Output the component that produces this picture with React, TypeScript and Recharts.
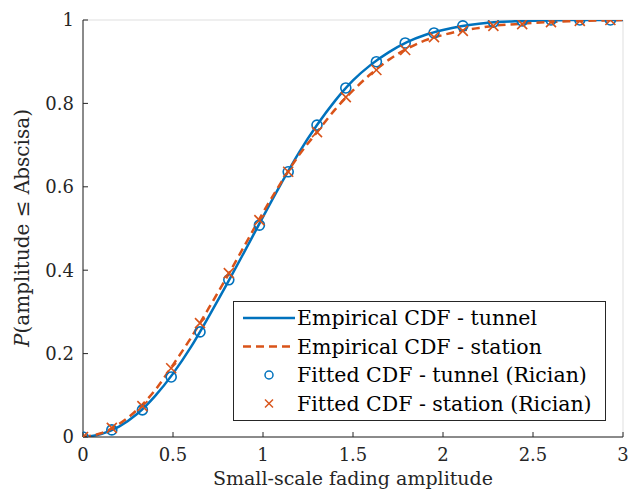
import { ComposedChart, Line, Scatter, XAxis, YAxis, CartesianGrid } from 'recharts';

const xGrid = [0, 0.1, 0.2, 0.3, 0.4, 0.5, 0.6, 0.7, 0.8, 0.9, 1.0, 1.1, 1.2, 1.3, 1.4, 1.5, 1.6, 1.7, 1.8, 1.9, 2.0, 2.1, 2.2, 2.3, 2.4, 2.5, 2.6, 2.7, 2.8, 2.9, 3.0];
const tunnelCdf = [0, 0.007, 0.025, 0.055, 0.098, 0.152, 0.216, 0.29, 0.367, 0.447, 0.528, 0.607, 0.682, 0.748, 0.806, 0.855, 0.893, 0.923, 0.947, 0.964, 0.976, 0.985, 0.991, 0.995, 0.997, 0.998, 0.999, 1, 1, 1, 1];
const stationCdf = [0, 0.009, 0.031, 0.065, 0.112, 0.173, 0.238, 0.31, 0.384, 0.461, 0.538, 0.61, 0.676, 0.731, 0.785, 0.831, 0.871, 0.905, 0.931, 0.951, 0.964, 0.974, 0.981, 0.987, 0.99, 0.993, 0.995, 0.997, 0.998, 0.999, 1];

const markerX = [0, 0.16, 0.33, 0.49, 0.65, 0.81, 0.98, 1.14, 1.3, 1.46, 1.63, 1.79, 1.95, 2.11, 2.28, 2.44, 2.6, 2.76, 2.93];
const tunnelFit = [0, 0.017, 0.065, 0.144, 0.252, 0.377, 0.508, 0.636, 0.748, 0.837, 0.9, 0.945, 0.969, 0.986, 0.995, 0.998, 1, 1, 1];
const stationFit = [0, 0.022, 0.074, 0.165, 0.273, 0.393, 0.52, 0.636, 0.731, 0.815, 0.88, 0.928, 0.959, 0.974, 0.986, 0.99, 0.995, 0.998, 1];

const xTicks = [0, 0.5, 1, 1.5, 2, 2.5, 3];
const yTicks = [0, 0.2, 0.4, 0.6, 0.8, 1];

const BLUE = '#0072BD';
const ORANGE = '#D95319';
const FONT = '"DejaVu Serif", "Liberation Serif", serif';

const tunnelLine = xGrid.map((x, i) => ({ x, y: tunnelCdf[i] }));
const stationLine = xGrid.map((x, i) => ({ x, y: stationCdf[i] }));
const tunnelPts = markerX.map((x, i) => ({ x, y: tunnelFit[i] }));
const stationPts = markerX.map((x, i) => ({ x, y: stationFit[i] }));

function Circle(props: any) {
  return <circle cx={props.cx} cy={props.cy} r={5} fill="none" stroke={BLUE} strokeWidth={1.6} />;
}

function Cross(props: any) {
  const { cx, cy } = props;
  const s = 5;
  return (
    <g stroke={ORANGE} strokeWidth={1.6}>
      <line x1={cx - s} y1={cy - s} x2={cx + s} y2={cy + s} />
      <line x1={cx - s} y1={cy + s} x2={cx + s} y2={cy - s} />
    </g>
  );
}

function LegendBox() {
  const rows = [
    { label: 'Empirical CDF - tunnel', kind: 'line' },
    { label: 'Empirical CDF - station', kind: 'dash' },
    { label: 'Fitted CDF - tunnel (Rician)', kind: 'circle' },
    { label: 'Fitted CDF - station (Rician)', kind: 'cross' },
  ];
  return (
    <svg width={373} height={120} style={{ display: 'block' }}>
      <rect x={0.5} y={0.5} width={372} height={119} fill="#fff" stroke="#262626" strokeWidth={1} />
      {rows.map((r, i) => {
        const cy = 17 + i * 28.5;
        return (
          <g key={r.label}>
            {r.kind === 'line' && <line x1={10} x2={62} y1={cy} y2={cy} stroke={BLUE} strokeWidth={2.5} />}
            {r.kind === 'dash' && <line x1={10} x2={62} y1={cy} y2={cy} stroke={ORANGE} strokeWidth={2.5} strokeDasharray="8 5" />}
            {r.kind === 'circle' && <circle cx={36} cy={cy} r={4} fill="none" stroke={BLUE} strokeWidth={1.5} />}
            {r.kind === 'cross' && (
              <g stroke={ORANGE} strokeWidth={1.5}>
                <line x1={32} y1={cy - 4} x2={40} y2={cy + 4} />
                <line x1={32} y1={cy + 4} x2={40} y2={cy - 4} />
              </g>
            )}
            <text x={64} y={cy + 7} fontFamily={FONT} fontSize={20.5} fill="#000">{r.label}</text>
          </g>
        );
      })}
    </svg>
  );
}

function YLabel() {
  return (
    <text x={22} y={228} dy={7} transform="rotate(-90 22 228)" textAnchor="middle" fontFamily={FONT} fontSize={20} fill="#262626">
      <tspan fontStyle="italic">P</tspan>
      <tspan>(amplitude ≤ Abscisa)</tspan>
    </text>
  );
}

function XLabel() {
  return (
    <text x={353} y={485} textAnchor="middle" fontFamily={FONT} fontSize={19} fill="#262626">
      Small-scale fading amplitude
    </text>
  );
}

const tickStyle = { fontFamily: FONT, fontSize: 18, fill: '#262626' };

export default function App() {
  return (
    <div style={{ margin: -8, width: 640, height: 499, background: '#fff', position: 'relative' }}>
      <ComposedChart width={640} height={499} margin={{ top: 20, right: 17, bottom: 0, left: 0 }}>
        <CartesianGrid stroke="#dfdfdf" strokeWidth={1} />
        <XAxis xAxisId="b" type="number" dataKey="x" domain={[0, 3]} ticks={xTicks} allowDataOverflow
          stroke="#262626" tickSize={-5} tickMargin={16} tick={tickStyle} height={62}
          label={{ content: () => <XLabel /> }} />
        <XAxis xAxisId="t" orientation="top" type="number" dataKey="x" domain={[0, 3]} ticks={xTicks} allowDataOverflow
          stroke="#262626" tickSize={-5} tick={false} height={0} />
        <YAxis yAxisId="l" type="number" domain={[0, 1]} ticks={yTicks} allowDataOverflow
          stroke="#262626" tickSize={-5} tickMargin={14} tick={tickStyle} width={83}
          label={{ content: () => <YLabel /> }} />
        <YAxis yAxisId="r" orientation="right" type="number" domain={[0, 1]} ticks={yTicks} allowDataOverflow
          stroke="#262626" tickSize={-5} tick={false} width={0} />
        <Line xAxisId="b" yAxisId="l" data={tunnelLine} dataKey="y" type="monotone" stroke={BLUE} strokeWidth={2.5} dot={false} isAnimationActive={false} />
        <Line xAxisId="b" yAxisId="l" data={stationLine} dataKey="y" type="monotone" stroke={ORANGE} strokeWidth={2.5} strokeDasharray="8 5" dot={false} isAnimationActive={false} />
        <Scatter xAxisId="b" yAxisId="l" data={tunnelPts} dataKey="y" shape={<Circle />} isAnimationActive={false} />
        <Scatter xAxisId="b" yAxisId="l" data={stationPts} dataKey="y" shape={<Cross />} isAnimationActive={false} />
      </ComposedChart>
      <div style={{ position: 'absolute', left: 233, top: 301 }}>
        <LegendBox />
      </div>
    </div>
  );
}
